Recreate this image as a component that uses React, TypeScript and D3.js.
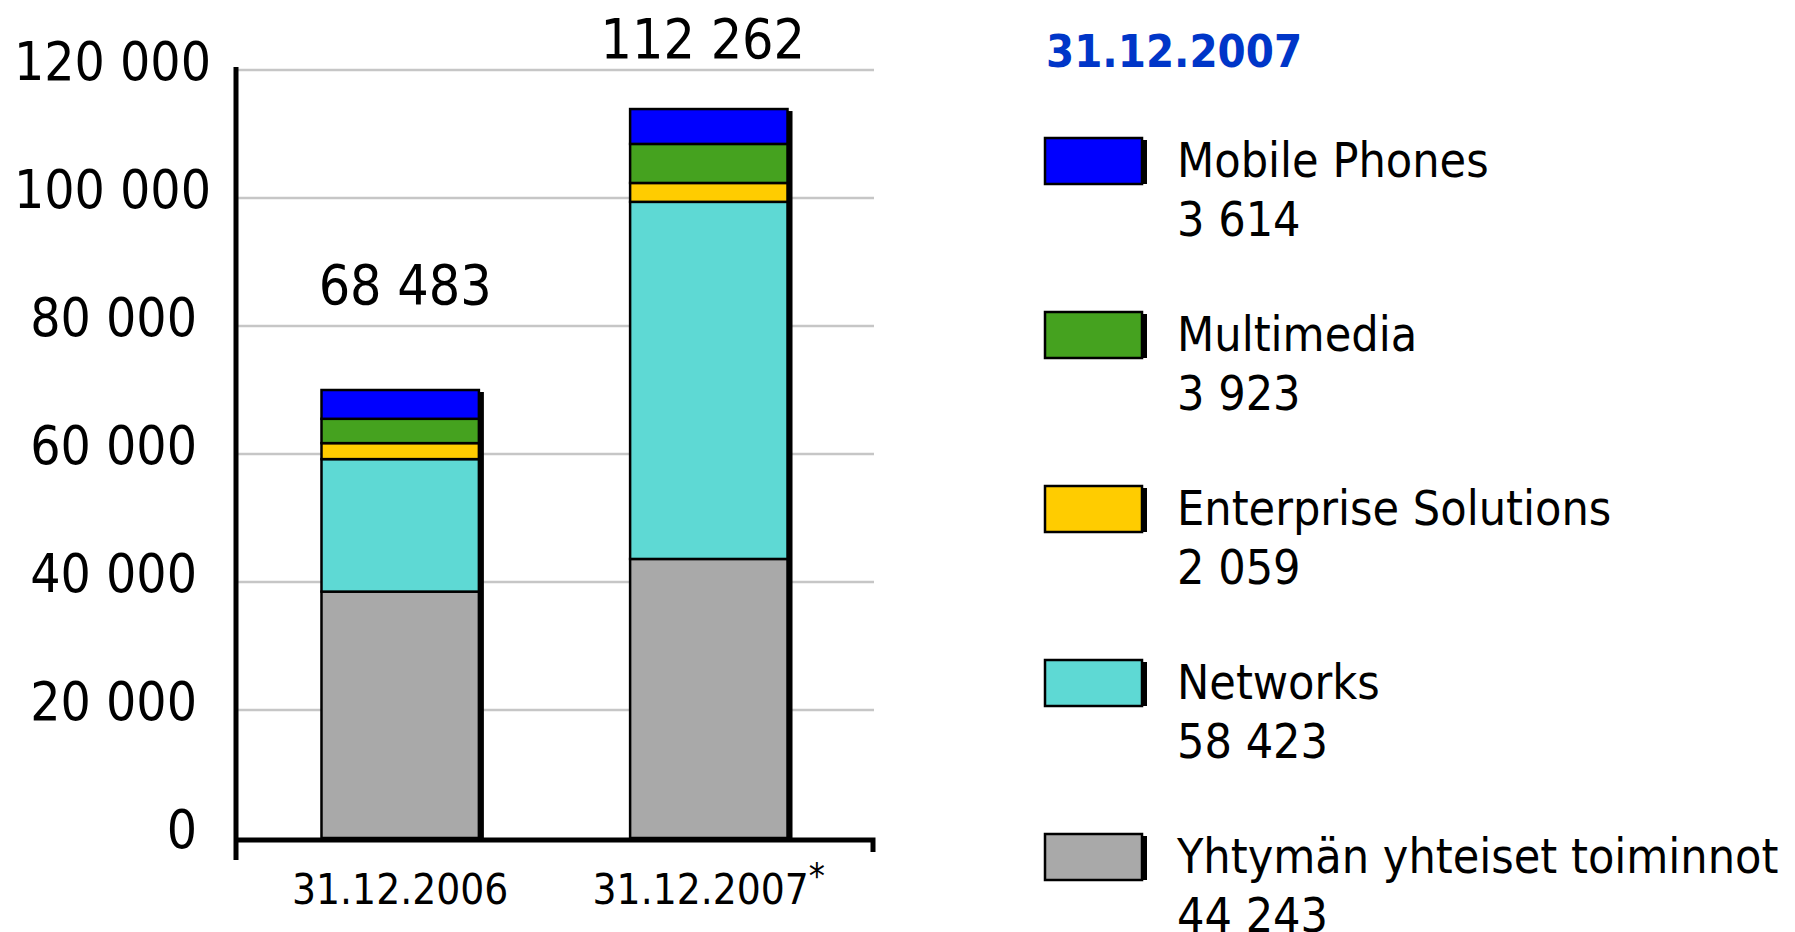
import React, { useEffect, useRef } from 'react'
import * as d3 from 'd3'

// personnel by group, stacked bottom -> top
const categories = ["31.12.2006", "31.12.2007"]
const commonFunctions = [38500, 43600]
const networks = [20700, 55800]
const enterprise = [2500, 2950]
const multimedia = [3800, 6100]
const mobilePhones = [4500, 5450]
const totalLabels = ["68 483", "112 262"]

const seriesKeys = ["common", "networks", "enterprise", "multimedia", "mobile"]
const seriesNames = ["Yhtymän yhteiset toiminnot", "Networks", "Enterprise Solutions", "Multimedia", "Mobile Phones"]
const seriesColors = ["#a9a9a9", "#5ed9d4", "#ffcc00", "#45a21f", "#0000ff"]
const legendValues = ["44 243", "58 423", "2 059", "3 923", "3 614"]
const legendTitle = "31.12.2007"

const yTicks = [0, 20000, 40000, 60000, 80000, 100000, 120000]

const FONT = "'DejaVu Sans Condensed', 'Noto Sans', sans-serif"

function drawChart(el: SVGSVGElement) {
    const svg = d3.select(el)
    svg.selectAll("*").remove()

    const rows = categories.map((c, i) => ({
        cat: c,
        common: commonFunctions[i],
        networks: networks[i],
        enterprise: enterprise[i],
        multimedia: multimedia[i],
        mobile: mobilePhones[i],
    }))
    const stacked = d3.stack<any>().keys(seriesKeys)(rows)

    const x = d3.scaleBand()
        .domain(categories)
        .range([236, 873])
        .paddingInner(0.49)
        .paddingOuter(0.277)
    const y = d3.scaleLinear().domain([0, 120000]).range([838, 70])
    const fmt = (v: number) => d3.format(",")(v).replace(/,/g, " ")

    // gridlines
    svg.append("g").selectAll("line")
        .data(yTicks.filter(t => t > 0))
        .join("line")
        .attr("x1", 236).attr("x2", 874)
        .attr("y1", d => y(d)).attr("y2", d => y(d))
        .attr("stroke", "#c6c6c6")
        .attr("stroke-width", 2.5)

    // tick labels
    svg.append("g").selectAll("text")
        .data(yTicks)
        .join("text")
        .attr("x", d => d >= 100000 ? 211 : 197)
        .attr("y", d => y(d) + 10)
        .attr("text-anchor", "end")
        .attr("font-family", FONT)
        .attr("font-size", 53)
        .text(d => fmt(d))

    // bar shadows
    const totals = rows.map((r, i) => stacked[stacked.length - 1][i][1])
    svg.append("g").selectAll("rect")
        .data(categories)
        .join("rect")
        .attr("x", d => x(d)! + 5)
        .attr("y", (d, i) => y(totals[i]) + 2)
        .attr("width", x.bandwidth())
        .attr("height", (d, i) => y(0) - y(totals[i]) - 2)
        .attr("fill", "#000")

    // stacked segments
    svg.append("g").selectAll("g")
        .data(stacked)
        .join("g")
        .attr("fill", (d, i) => seriesColors[i])
        .selectAll("rect")
        .data(d => d)
        .join("rect")
        .attr("x", (d: any) => x(d.data.cat)!)
        .attr("y", d => y(d[1]))
        .attr("width", x.bandwidth())
        .attr("height", d => y(d[0]) - y(d[1]))
        .attr("stroke", "#000")
        .attr("stroke-width", 2.5)

    // totals above bars, nudged towards the middle like the original
    svg.append("g").selectAll("text")
        .data(categories)
        .join("text")
        .attr("x", (d, i) => x(d)! + x.bandwidth() / 2 + (i === 0 ? 5 : -6))
        .attr("y", (d, i) => Math.max(58, y(totals[i]) - 86))
        .attr("text-anchor", "middle")
        .attr("font-family", FONT)
        .attr("font-size", 55)
        .text((d, i) => totalLabels[i])

    // axes
    svg.append("line")
        .attr("x1", 236).attr("x2", 236)
        .attr("y1", 67).attr("y2", 860)
        .attr("stroke", "#000").attr("stroke-width", 5)
    svg.append("path")
        .attr("d", `M236,${y(0) + 2}H873V852`)
        .attr("fill", "none")
        .attr("stroke", "#000").attr("stroke-width", 5)

    // category labels
    const catLabels = svg.append("g").selectAll("text")
        .data(categories)
        .join("text")
        .attr("x", d => x(d)! + x.bandwidth() / 2)
        .attr("y", 904)
        .attr("text-anchor", "middle")
        .attr("font-family", FONT)
        .attr("font-size", 42)
    catLabels.append("tspan").text(d => d)
    catLabels.filter((d, i) => i === 1)
        .append("tspan")
        .attr("dy", -16)
        .attr("font-size", 36)
        .text("*")

    // legend
    svg.append("text")
        .attr("x", 1046).attr("y", 67)
        .attr("font-family", FONT)
        .attr("font-weight", "bold")
        .attr("font-size", 45)
        .attr("fill", "#0036c8")
        .text(legendTitle)

    const order = d3.range(seriesKeys.length).reverse()
    const items = svg.append("g").selectAll("g")
        .data(order)
        .join("g")
        .attr("transform", (d, i) => `translate(1045,${138 + i * 174})`)
    items.append("rect")
        .attr("x", 5).attr("y", 2)
        .attr("width", 97).attr("height", 44)
        .attr("fill", "#000")
    items.append("rect")
        .attr("width", 97).attr("height", 46)
        .attr("fill", d => seriesColors[d])
        .attr("stroke", "#000")
        .attr("stroke-width", 2.5)
    items.append("text")
        .attr("x", 132).attr("y", 39)
        .attr("font-family", FONT)
        .attr("font-size", 48)
        .text(d => seriesNames[d])
    items.append("text")
        .attr("x", 132).attr("y", 98)
        .attr("font-family", FONT)
        .attr("font-size", 48)
        .text(d => legendValues[d])
}

const App = () => {
    const ref = useRef<SVGSVGElement>(null)
    useEffect(() => {
        if (ref.current) drawChart(ref.current)
    }, [])

    return (
        <svg ref={ref} width={1795} height={932}
            style={{ position: "absolute", left: 0, top: 0, display: "block", background: "#fff" }} />
    )
}

export default App
